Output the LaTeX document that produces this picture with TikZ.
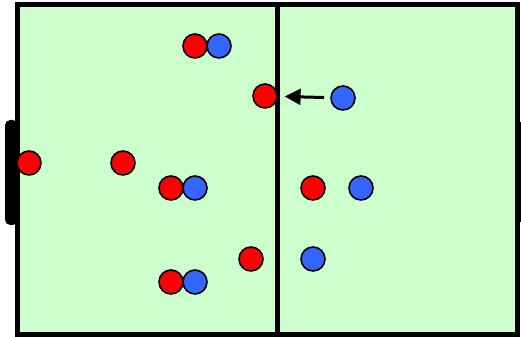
\documentclass[tikz,border=0pt]{standalone}
\usetikzlibrary{arrows.meta}
\definecolor{pitch}{HTML}{CCFFCC}
\definecolor{teamred}{HTML}{FF0000}
\definecolor{teamblue}{HTML}{3366FF}
\begin{document}
\begin{tikzpicture}[x=0.02cm,y=-0.02cm,
    red/.style={circle,draw,line width=0.9pt,fill=teamred,minimum size=0.48cm,inner sep=0pt},
    blue/.style={circle,draw,line width=0.9pt,fill=teamblue,minimum size=0.48cm,inner sep=0pt}]
    \useasboundingbox (0,0) rectangle (521,337);
    % goals and pitch
    \fill[rounded corners=3pt] (5,120) rectangle (18,225);
    \fill (515,122) rectangle (524,222);
    \draw[line width=2.8pt,fill=pitch] (17.5,4.5) rectangle (517.5,334.5);
    \draw[line width=2.8pt] (277.5,4.5) -- (277.5,334.5);

    \node[red] (R1) at (195, 46) {};
    \node[blue] (B1) at (219, 46) {};
    \node[red] (R2) at (265, 96) {};
    \node[blue] (B2) at (343, 98) {};
    \node[red] (R3) at ( 29,163) {};
    \node[red] (R4) at (123,163) {};
    \node[red] (R5) at (171,188) {};
    \node[blue] (B3) at (195,188) {};
    \node[red] (R6) at (313,188) {};
    \node[blue] (B4) at (361,188) {};
    \node[red] (R7) at (251,259) {};
    \node[blue] (B5) at (313,259) {};
    \node[red] (R8) at (171,282) {};
    \node[blue] (B6) at (195,282) {};

    \begin{scope}[every path/.style={-{Triangle[length=9pt,width=9pt]},line width=1.7pt}]
       \draw[shorten <=3.5pt,shorten >=4pt] (B2) -- (R2);
    \end{scope}
\end{tikzpicture}
\end{document}
